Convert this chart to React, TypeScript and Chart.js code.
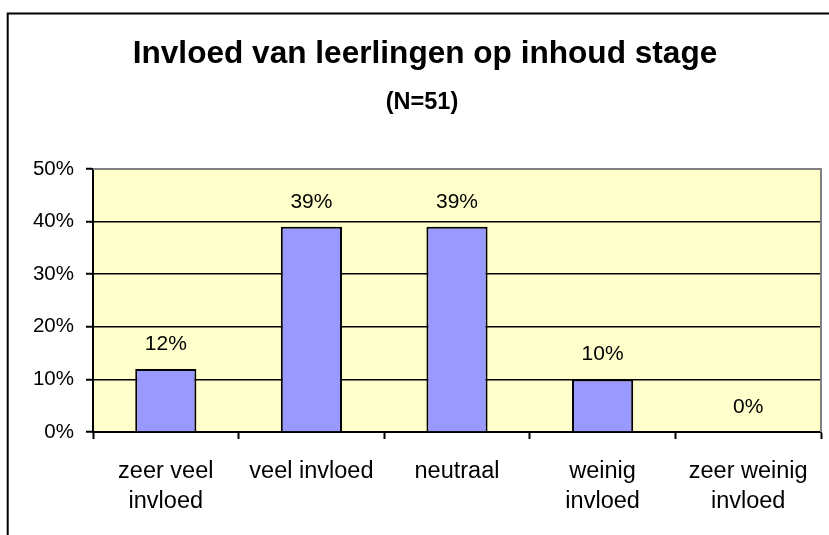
import React, { useEffect, useRef } from "react";
import { Chart, registerables } from "chart.js";

Chart.register(...registerables);

const titleText = "Invloed van leerlingen op inhoud stage";
const subtitleText = "(N=51)";
const categories: string[][] = [
  ["zeer veel", "invloed"],
  ["veel invloed"],
  ["neutraal"],
  ["weinig", "invloed"],
  ["zeer weinig", "invloed"],
];
const values: number[] = [12, 39, 39, 10, 0];
const yMin = 0;
const yMax = 50;
const yStep = 10;

const FONT = "'Liberation Sans', Arial, sans-serif";

const decorPlugin = {
  id: "decor",
  beforeDraw(chart: any) {
    const { ctx, chartArea } = chart;
    ctx.save();
    ctx.fillStyle = "#ffffff";
    ctx.fillRect(0, 0, chart.width, chart.height);
    ctx.fillStyle = "#FFFFCC";
    ctx.fillRect(chartArea.left, chartArea.top, chartArea.right - chartArea.left, chartArea.bottom - chartArea.top);
    // outer frame
    ctx.strokeStyle = "#000000";
    ctx.lineWidth = 2;
    ctx.strokeRect(7.7, 13.5, 1000, 1000);
    // titles
    ctx.fillStyle = "#000000";
    ctx.textAlign = "center";
    ctx.textBaseline = "alphabetic";
    ctx.font = `bold 31.6px ${FONT}`;
    ctx.fillText(titleText, 425, 63);
    ctx.font = `bold 23.5px ${FONT}`;
    ctx.fillText(subtitleText, 422, 109);
    ctx.restore();
  },
  afterDatasetsDraw(chart: any) {
    const { ctx, chartArea } = chart;
    ctx.save();
    // plot border (top + right) gray
    ctx.strokeStyle = "#808080";
    ctx.lineWidth = 2;
    ctx.beginPath();
    ctx.moveTo(chartArea.left, chartArea.top);
    ctx.lineTo(chartArea.right, chartArea.top);
    ctx.lineTo(chartArea.right, chartArea.bottom);
    ctx.stroke();
    // data labels
    const meta = chart.getDatasetMeta(0);
    ctx.fillStyle = "#000000";
    ctx.font = `21px ${FONT}`;
    ctx.textAlign = "center";
    ctx.textBaseline = "middle";
    meta.data.forEach((el: any, i: number) => {
      ctx.fillText(values[i] + "%", el.x, el.y - 25);
    });
    ctx.restore();
  },
};

export default function App() {
  const ref = useRef<HTMLCanvasElement | null>(null);
  useEffect(() => {
    if (!ref.current) return;
    const chart = new Chart(ref.current, {
      type: "bar",
      data: {
        labels: categories,
        datasets: [
          {
            data: values,
            backgroundColor: "#9999FF",
            borderColor: "#000000",
            borderWidth: 2,
            categoryPercentage: 1,
            barPercentage: 0.42,
          },
        ],
      },
      options: {
        animation: false,
        responsive: false,
        layout: { padding: { top: 169, right: 8, left: 0, bottom: 0 } },
        plugins: {
          legend: { display: false },
          title: { display: false },
          tooltip: { enabled: false },
        },
        scales: {
          x: {
            afterFit(scale: any) {
              scale.height = 103;
            },
            grid: {
              display: true,
              drawOnChartArea: false,
              drawTicks: true,
              tickLength: 7,
              tickColor: "#000000",
              tickWidth: 2,
              offset: true,
            },
            border: { display: true, color: "#000000", width: 2 },
            ticks: {
              color: "#000000",
              padding: 18,
              maxRotation: 0,
              autoSkip: false,
              font: { family: FONT, size: 23.5, lineHeight: 30 / 23.5 },
            },
          },
          y: {
            min: yMin,
            max: yMax,
            afterFit(scale: any) {
              scale.width = 93;
            },
            grid: {
              color: "#000000",
              lineWidth: 1.5,
              drawTicks: true,
              tickLength: 7,
              tickColor: "#000000",
              tickWidth: 2,
            },
            border: { display: true, color: "#000000", width: 2 },
            ticks: {
              stepSize: yStep,
              color: "#000000",
              padding: 12,
              font: { family: FONT, size: 20.5 },
              callback: (v: any) => v + "%",
            },
          },
        },
      },
      plugins: [decorPlugin],
    });
    return () => chart.destroy();
  }, []);
  return (
    <div style={{ position: "fixed", left: 0, top: 0, width: 829, height: 535 }}>
      <canvas ref={ref} width={829} height={535} style={{ display: "block" }} />
    </div>
  );
}
